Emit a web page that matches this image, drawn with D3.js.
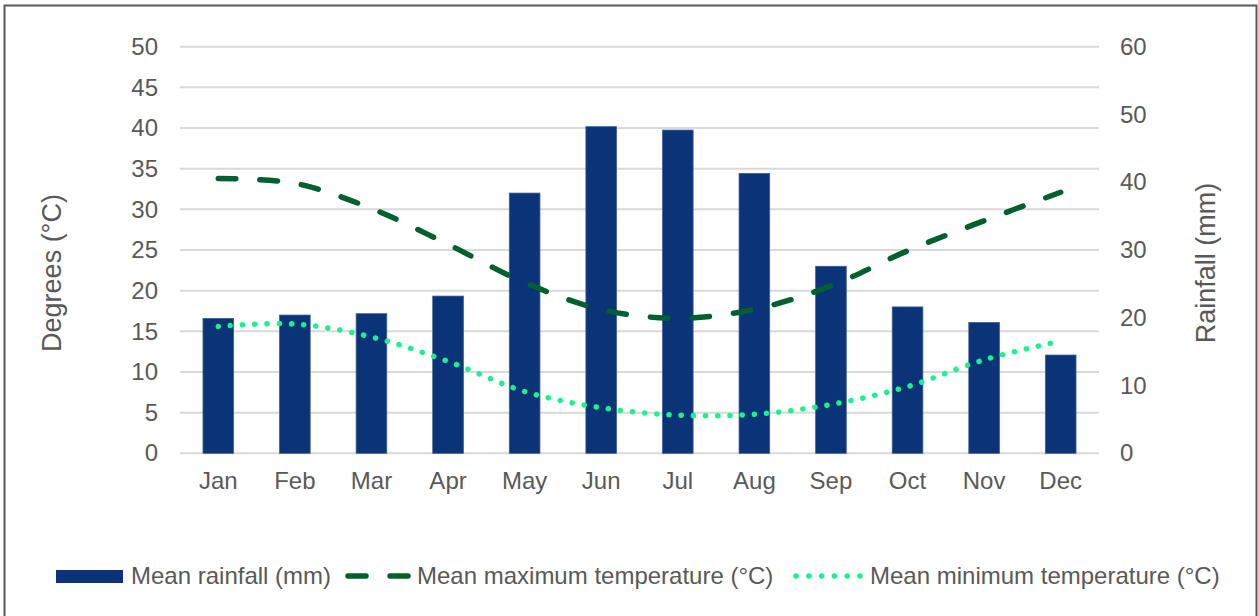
<!DOCTYPE html>
<html>
<head>
<meta charset="utf-8">
<script src="https://cdn.jsdelivr.net/npm/d3@7"></script>
<style>
  html, body { margin: 0; padding: 0; background: #fff; }
  svg { display: block; font-family: "Liberation Sans", Arial, sans-serif; }
</style>
</head>
<body>
<svg id="chart" width="1258" height="616"></svg>
<script>
const months = ["Jan","Feb","Mar","Apr","May","Jun","Jul","Aug","Sep","Oct","Nov","Dec"];
const rainfall = [19.9, 20.4, 20.6, 23.2, 38.4, 48.2, 47.7, 41.3, 27.6, 21.6, 19.3, 14.5];
const maxTemp = [33.8, 33.2, 30.1, 25.7, 21.0, 17.7, 16.6, 17.7, 20.6, 24.9, 28.6, 32.1];
const minTemp = [15.6, 15.9, 14.3, 11.3, 7.6, 5.6, 4.7, 4.8, 6.0, 8.2, 11.5, 13.8];
const leftTicks = [0, 5, 10, 15, 20, 25, 30, 35, 40, 45, 50];
const rightTicks = [0, 10, 20, 30, 40, 50, 60];
const legendLabels = ["Mean rainfall (mm)", "Mean maximum temperature (°C)", "Mean minimum temperature (°C)"];
const leftTitle = "Degrees (°C)";
const rightTitle = "Rainfall (mm)";

const textColor = "#595959";
const gridColor = "#d9d9d9";
const barColor = "#0b3378";
const maxColor = "#00602f";
const minColor = "#1af28a";

const svg = d3.select("#chart");

// outer border
svg.append("rect").attr("x", 4.5).attr("y", 5.5).attr("width", 1252).attr("height", 620)
  .attr("fill", "none").attr("stroke", "#595959").attr("stroke-width", 2);

const plot = { left: 180, right: 1099, top: 46.7, bottom: 453.3 };

const x = d3.scaleBand().domain(months).range([plot.left, plot.right]).padding(0);
const yL = d3.scaleLinear().domain([0, 50]).range([plot.bottom, plot.top]);
const yR = d3.scaleLinear().domain([0, 60]).range([plot.bottom, plot.top]);

// gridlines
svg.append("g").selectAll("line").data(leftTicks).join("line")
  .attr("x1", plot.left).attr("x2", plot.right)
  .attr("y1", d => yL(d)).attr("y2", d => yL(d))
  .attr("stroke", gridColor).attr("stroke-width", 2);

// left axis
const gL = svg.append("g").attr("transform", `translate(${plot.left - 22},0)`)
  .call(d3.axisLeft(yL).tickValues(leftTicks).tickSize(0).tickPadding(0));
gL.select(".domain").remove();
gL.selectAll("text").attr("fill", textColor).style("font-size", "24px")
  .style("font-family", "Liberation Sans, Arial, sans-serif");

// right axis
const gR = svg.append("g").attr("transform", `translate(${plot.right + 21},0)`)
  .call(d3.axisRight(yR).tickValues(rightTicks).tickSize(0).tickPadding(0));
gR.select(".domain").remove();
gR.selectAll("text").attr("fill", textColor).style("font-size", "24px")
  .style("font-family", "Liberation Sans, Arial, sans-serif");

// bottom axis
const gB = svg.append("g").attr("transform", `translate(0,${plot.bottom + 18})`)
  .call(d3.axisBottom(x).tickSize(0).tickPadding(0));
gB.select(".domain").remove();
gB.selectAll("text").attr("fill", textColor).style("font-size", "24px")
  .attr("dy", "0.75em")
  .style("font-family", "Liberation Sans, Arial, sans-serif");

// axis titles
svg.append("text").attr("transform", `translate(61,273) rotate(-90)`)
  .attr("text-anchor", "middle").attr("fill", textColor).style("font-size", "27px").text(leftTitle);
svg.append("text").attr("transform", `translate(1215,263) rotate(-90)`)
  .attr("text-anchor", "middle").attr("fill", textColor).style("font-size", "27px").text(rightTitle);

// bars
const barW = x.bandwidth() * 0.4;
svg.append("g").selectAll("rect").data(months).join("rect")
  .attr("x", (d) => x(d) + x.bandwidth() / 2 - barW / 2)
  .attr("width", barW)
  .attr("y", (d, i) => yR(rainfall[i]))
  .attr("height", (d, i) => yR(0) - yR(rainfall[i]))
  .attr("fill", barColor).attr("stroke", "#3b5d9c").attr("stroke-width", 0.8);

const cx = d => x(d) + x.bandwidth() / 2;

// max temp line
const lineGen = d3.line().x((d, i) => cx(months[i])).y(d => yL(d)).curve(d3.curveCatmullRom.alpha(0.5));
svg.append("path").datum(maxTemp).attr("d", lineGen)
  .attr("fill", "none").attr("stroke", maxColor).attr("stroke-width", 5.5)
  .attr("stroke-linecap", "round").attr("stroke-dasharray", "17.5,24.2");

// min temp line
svg.append("path").datum(minTemp).attr("d", lineGen)
  .attr("fill", "none").attr("stroke", minColor).attr("stroke-width", 5.5)
  .attr("stroke-linecap", "round").attr("stroke-dasharray", "0.1,12.1");

// legend
const lg = svg.append("g");
const ly = 576;
lg.append("rect").attr("x", 56).attr("y", 570).attr("width", 67).attr("height", 13).attr("fill", barColor);
lg.append("text").attr("x", 131).attr("y", ly).attr("dy", "0.35em").attr("fill", textColor)
  .style("font-size", "24px").text(legendLabels[0]);
lg.append("line").attr("x1", 348).attr("x2", 408).attr("y1", ly).attr("y2", ly)
  .attr("stroke", maxColor).attr("stroke-width", 5.5).attr("stroke-linecap", "round")
  .attr("stroke-dasharray", "18,24");
lg.append("text").attr("x", 417).attr("y", ly).attr("dy", "0.35em").attr("fill", textColor)
  .style("font-size", "24px").text(legendLabels[1]);
lg.append("line").attr("x1", 796).attr("x2", 860).attr("y1", ly).attr("y2", ly)
  .attr("stroke", minColor).attr("stroke-width", 5.5).attr("stroke-linecap", "round")
  .attr("stroke-dasharray", "0.1,12.7");
lg.append("text").attr("x", 870).attr("y", ly).attr("dy", "0.35em").attr("fill", textColor)
  .style("font-size", "24px").text(legendLabels[2]);
</script>
</body>
</html>
